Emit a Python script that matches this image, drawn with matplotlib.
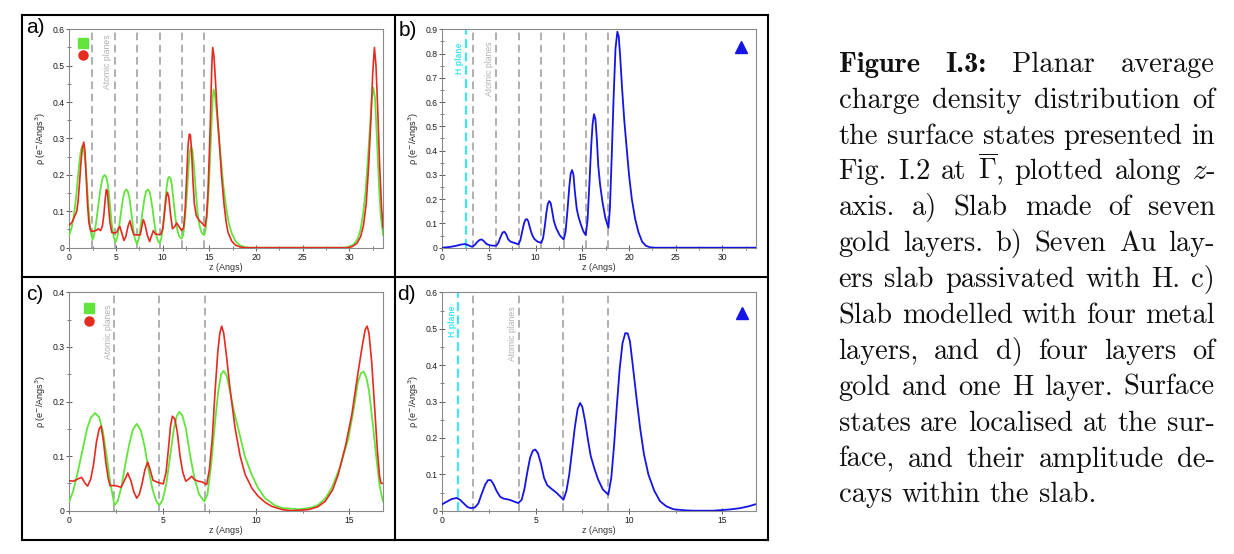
import matplotlib
matplotlib.use('Agg')
import matplotlib.pyplot as plt
from matplotlib.ticker import MultipleLocator, FuncFormatter
from matplotlib.lines import Line2D

# ---------------- data ----------------
# panel a : seven Au layers
a_planes = [2.42, 4.85, 7.27, 9.68, 12.09, 14.48]
a_green_z = [0.0, 0.25, 0.5, 0.75, 0.95, 1.1, 1.25, 1.4, 1.55, 1.7, 1.85, 2.0, 2.15, 2.3, 2.5,
             2.65, 2.85, 3.05, 3.25, 3.45, 3.62, 3.8, 3.98, 4.15, 4.35, 4.55, 4.75, 4.95,
             5.15, 5.35, 5.55, 5.75, 5.93, 6.1, 6.27, 6.45, 6.65, 6.85, 7.05, 7.25,
             7.45, 7.65, 7.85, 8.05, 8.23, 8.4, 8.57, 8.75, 8.95, 9.15, 9.35, 9.5, 9.68,
             9.85, 10.05, 10.25, 10.42, 10.57, 10.7, 10.85, 11.0, 11.2, 11.4, 11.6, 11.8, 12.05,
             12.2, 12.4, 12.6, 12.78, 12.92, 13.05, 13.18, 13.35, 13.55, 13.75, 13.95, 14.2, 14.45,
             14.6, 14.75, 14.95, 15.1, 15.25, 15.35, 15.45, 15.6, 15.8, 16.0, 16.25, 16.5, 16.8,
             17.1, 17.4, 17.8, 18.3, 18.8, 19.3,
             29.5, 30.0, 30.5, 30.9, 31.2, 31.5, 31.75, 32.0, 32.2, 32.4, 32.57, 32.75, 32.95,
             33.15, 33.35, 33.6]
a_green_rho = [0.035, 0.055, 0.09, 0.145, 0.2, 0.24, 0.268, 0.28, 0.27, 0.24, 0.19, 0.13, 0.08,
               0.042, 0.022,
               0.033, 0.065, 0.105, 0.145, 0.178, 0.195, 0.2, 0.193, 0.17, 0.12, 0.065, 0.03,
               0.015,
               0.03, 0.06, 0.1, 0.135, 0.155, 0.16, 0.155, 0.135, 0.095, 0.052, 0.022, 0.01,
               0.025, 0.06, 0.1, 0.135, 0.155, 0.16, 0.155, 0.135, 0.1, 0.06, 0.03, 0.018, 0.012,
               0.025, 0.06, 0.12, 0.165, 0.19, 0.195, 0.19, 0.17, 0.12, 0.075, 0.045, 0.03, 0.025,
               0.035, 0.08, 0.15, 0.225, 0.265, 0.278, 0.268, 0.225, 0.155, 0.095, 0.06, 0.04,
               0.035,
               0.05, 0.09, 0.17, 0.26, 0.35, 0.41, 0.435, 0.42, 0.37, 0.31, 0.24, 0.17, 0.11,
               0.065, 0.04, 0.018, 0.006, 0.002, 0.0,
               0.0, 0.003, 0.01, 0.025, 0.05, 0.1, 0.16, 0.25, 0.33, 0.41, 0.44, 0.41, 0.3,
               0.18, 0.09, 0.035]
a_red_z = [0.0, 0.3, 0.55, 0.8, 0.95, 1.1, 1.25, 1.4, 1.55, 1.68, 1.8, 1.95, 2.1, 2.3, 2.6, 2.9,
           3.1, 3.35, 3.55, 3.7, 3.85, 3.97, 4.08, 4.2, 4.35, 4.55, 4.85, 5.1, 5.3, 5.42, 5.6,
           5.85, 6.05, 6.3, 6.5, 6.7, 6.9, 7.2, 7.6, 7.8, 7.93, 8.1, 8.35, 8.6, 8.8, 9.0, 9.2,
           9.5, 9.8, 10.0, 10.2, 10.38, 10.52, 10.66, 10.85, 11.05, 11.3, 11.5, 11.75, 12.04,
           12.25, 12.42, 12.58, 12.72, 12.85, 12.97, 13.1, 13.25, 13.4, 13.6, 13.9, 14.2, 14.54,
           14.7, 14.85, 15.0, 15.1, 15.2, 15.28, 15.36, 15.5, 15.65, 15.85, 16.07, 16.3, 16.57,
           16.8, 17.0, 17.4, 17.8, 18.3, 18.8,
           29.8, 30.3, 30.8, 31.2, 31.5, 31.8, 32.05, 32.3, 32.5, 32.68, 32.85, 33.05, 33.25,
           33.45, 33.6]
a_red_rho = [0.062, 0.07, 0.085, 0.1, 0.13, 0.18, 0.235, 0.275, 0.29, 0.265, 0.2, 0.12, 0.068,
             0.046, 0.045, 0.048, 0.052, 0.047, 0.06, 0.09, 0.135, 0.16, 0.155, 0.115, 0.07,
             0.042, 0.04, 0.043, 0.055, 0.058, 0.042, 0.02, 0.03, 0.06, 0.074, 0.052, 0.036,
             0.035, 0.035, 0.062, 0.077, 0.065, 0.035, 0.017, 0.032, 0.047, 0.038, 0.036, 0.037,
             0.05, 0.095, 0.14, 0.152, 0.138, 0.09, 0.052, 0.058, 0.068, 0.058, 0.047,
             0.055, 0.11, 0.2, 0.28, 0.312, 0.31, 0.265, 0.18, 0.12, 0.088, 0.075, 0.068, 0.058,
             0.085, 0.15, 0.26, 0.34, 0.44, 0.51, 0.55, 0.525, 0.46, 0.37, 0.29, 0.2, 0.12,
             0.07, 0.042, 0.018, 0.007, 0.002, 0.0,
             0.0, 0.003, 0.012, 0.03, 0.06, 0.12, 0.22, 0.35, 0.48, 0.55, 0.5, 0.37, 0.22,
             0.11, 0.055]

# panel b : seven Au layers + H
b_hplane = 2.54
b_planes = [3.32, 5.75, 8.18, 10.57, 13.0, 15.36, 17.79]
b_blue_z = [0.0, 0.8, 1.5, 2.0, 2.45, 2.8, 3.15, 3.45, 3.75, 4.0, 4.22, 4.45, 4.75, 5.1, 5.5,
            5.8, 6.0, 6.25, 6.45, 6.65, 6.85, 7.05, 7.3, 7.7, 8.15, 8.35, 8.55, 8.75, 8.9, 9.05,
            9.2, 9.4, 9.6, 9.85, 10.2, 10.6, 10.8, 11.0, 11.15, 11.3, 11.45, 11.6, 11.75, 11.95,
            12.2, 12.6, 13.0, 13.2, 13.4, 13.6, 13.75, 13.9, 14.05, 14.2, 14.4, 14.6, 14.85,
            15.1, 15.36, 15.55, 15.75, 15.95, 16.1, 16.25, 16.4, 16.55, 16.7, 16.9, 17.15,
            17.45, 17.79, 17.95, 18.15, 18.35, 18.55, 18.75, 18.9, 19.05, 19.25, 19.5, 19.75,
            20.0, 20.3, 20.65, 21.0, 21.4, 21.8, 22.3, 22.8, 33.6]
b_blue_rho = [0.0, 0.003, 0.008, 0.013, 0.015, 0.01, 0.004, 0.01, 0.024, 0.032, 0.034, 0.027,
              0.015, 0.01, 0.008, 0.009, 0.02, 0.045, 0.062, 0.066, 0.055, 0.035, 0.025, 0.02,
              0.014, 0.03, 0.065, 0.1, 0.115, 0.118, 0.11, 0.08, 0.055, 0.036, 0.025, 0.02,
              0.04, 0.095, 0.145, 0.18, 0.192, 0.185, 0.155, 0.11, 0.08, 0.05, 0.034, 0.065,
              0.15, 0.25, 0.305, 0.32, 0.3, 0.23, 0.16, 0.125, 0.095, 0.068, 0.052, 0.11, 0.26,
              0.42, 0.51, 0.55, 0.53, 0.45, 0.34, 0.26, 0.19, 0.125, 0.082, 0.16, 0.38, 0.62,
              0.82, 0.89, 0.87, 0.79, 0.66, 0.52, 0.41, 0.3, 0.2, 0.12, 0.065, 0.025, 0.008,
              0.001, 0.0, 0.0]

# panel c : four Au layers
c_planes = [2.42, 4.82, 7.25]
c_green_z = [0.0, 0.2, 0.45, 0.7, 0.95, 1.15, 1.38, 1.6, 1.8, 2.0, 2.2, 2.42, 2.6, 2.8, 3.0,
             3.2, 3.4, 3.61, 3.82, 4.02, 4.22, 4.45, 4.65, 4.82, 5.0, 5.2, 5.4, 5.6, 5.75, 5.89,
             6.05, 6.25, 6.45, 6.7, 6.95, 7.23, 7.4, 7.6, 7.8, 7.98, 8.13, 8.27, 8.42, 8.6, 8.8,
             9.05, 9.4, 9.77, 10.1, 10.48, 11.0, 11.4, 12.3, 13.0, 13.34, 13.7, 14.06, 14.5,
             14.95, 15.25, 15.45, 15.62, 15.76, 15.9, 16.05, 16.25, 16.45, 16.62, 16.8]
c_green_rho = [0.017, 0.035, 0.07, 0.11, 0.15, 0.17, 0.179, 0.171, 0.145, 0.1, 0.05, 0.01,
               0.018, 0.045, 0.085, 0.12, 0.148, 0.159, 0.148, 0.12, 0.08, 0.04, 0.018, 0.01,
               0.02, 0.05, 0.1, 0.15, 0.173, 0.181, 0.175, 0.15, 0.105, 0.06, 0.03, 0.017, 0.03,
               0.085, 0.16, 0.22, 0.25, 0.256, 0.248, 0.22, 0.185, 0.15, 0.1, 0.066, 0.042,
               0.023, 0.01, 0.005, 0.0025, 0.006, 0.011, 0.022, 0.042, 0.08, 0.133, 0.19,
               0.235, 0.252, 0.255, 0.245, 0.22, 0.16, 0.095, 0.045, 0.017]
c_red_z = [0.0, 0.22, 0.45, 0.66, 0.85, 0.98, 1.15, 1.3, 1.45, 1.6, 1.7, 1.82, 1.95, 2.08, 2.18,
           2.45, 2.77, 2.95, 3.13, 3.3, 3.45, 3.61, 3.75, 3.9, 4.05, 4.2, 4.33, 4.48, 4.73,
           5.03, 5.18, 5.3, 5.42, 5.52, 5.65, 5.78, 5.93, 6.08, 6.24, 6.4, 6.55, 6.7, 6.9,
           7.09, 7.36, 7.5, 7.65, 7.8, 7.95, 8.06, 8.16, 8.27, 8.43, 8.6, 8.88, 9.15, 9.42,
           9.8, 10.13, 10.5, 10.84, 11.4, 11.91, 12.8, 13.3, 13.7, 14.1, 14.4, 14.8, 15.13,
           15.45, 15.68, 15.85, 15.95, 16.05, 16.2, 16.35, 16.5, 16.62, 16.7, 16.8]
c_red_rho = [0.055, 0.054, 0.058, 0.061, 0.05, 0.045, 0.058, 0.085, 0.125, 0.15, 0.155, 0.13,
             0.09, 0.06, 0.046, 0.046, 0.043, 0.055, 0.069, 0.055, 0.035, 0.023, 0.03, 0.05,
             0.075, 0.089, 0.075, 0.056, 0.052, 0.049, 0.07, 0.11, 0.155, 0.173, 0.168, 0.145,
             0.1, 0.07, 0.054, 0.058, 0.063, 0.057, 0.054, 0.053, 0.048, 0.075, 0.13, 0.215,
             0.29, 0.325, 0.338, 0.325, 0.28, 0.225, 0.151, 0.1, 0.066, 0.04, 0.026, 0.015,
             0.008, 0.002, 0.0, 0.002, 0.007, 0.017, 0.038, 0.066, 0.12, 0.176, 0.25, 0.3,
             0.332, 0.338, 0.325, 0.27, 0.19, 0.11, 0.062, 0.05, 0.05]

# panel d : four Au layers + H
d_hplane = 0.82
d_planes = [1.66, 4.09, 6.49, 8.88]
d_blue_z = [0.0, 0.25, 0.5, 0.77, 0.95, 1.13, 1.35, 1.55, 1.75, 1.93, 2.1, 2.3, 2.45, 2.6, 2.75,
            2.9, 3.1, 3.3, 3.6, 3.85, 4.07, 4.25, 4.4, 4.55, 4.7, 4.85, 4.98, 5.12, 5.28, 5.45,
            5.62, 5.85, 6.1, 6.3, 6.49, 6.65, 6.8, 6.95, 7.1, 7.25, 7.38, 7.5, 7.65, 7.8, 7.95,
            8.15, 8.35, 8.6, 8.89, 9.05, 9.2, 9.35, 9.5, 9.65, 9.8, 9.93, 10.05, 10.2, 10.4,
            10.6, 10.8, 11.04, 11.35, 11.66, 12.0, 12.38, 13.0, 13.45, 14.5, 15.05, 15.5,
            15.95, 16.4, 16.8]
d_blue_rho = [0.018, 0.025, 0.032, 0.035, 0.03, 0.021, 0.01, 0.007, 0.009, 0.02, 0.045, 0.072,
              0.084, 0.084, 0.072, 0.055, 0.038, 0.033, 0.03, 0.025, 0.021, 0.03, 0.06, 0.105,
              0.145, 0.165, 0.168, 0.158, 0.13, 0.09, 0.07, 0.06, 0.05, 0.04, 0.03, 0.055, 0.1,
              0.165, 0.23, 0.28, 0.296, 0.285, 0.245, 0.195, 0.15, 0.115, 0.085, 0.058, 0.044,
              0.09, 0.18, 0.29, 0.39, 0.46, 0.488, 0.487, 0.465, 0.4, 0.31, 0.225, 0.155, 0.099,
              0.055, 0.026, 0.012, 0.004, 0.001, 0.0, 0.0, 0.002, 0.004, 0.007, 0.012, 0.018]

caption_lines = [
    [("Figure", "b"), ("I.3:", "b"), ("Planar", "r"), ("average", "r")],
    "charge density distribution of",
    "the surface states presented in",
    ["Fig.", "I.2", "at", r"$\overline{\Gamma}$,", "plotted", "along", r"$z$-"],
    "axis.  a) Slab made of seven",
    "gold layers.  b) Seven Au lay-",
    "ers slab passivated with H. c)",
    "Slab modelled with four metal",
    "layers, and d) four layers of",
    "gold and one H layer. Surface",
    "states are localised at the sur-",
    "face, and their amplitude de-",
    "cays within the slab.",
]

# ---------------- styling ----------------
GREEN = '#62e43c'
RED = '#e52a1f'
BLUE = '#1414e6'
CYAN = '#3fe6f2'
DASH = '#9a9a9a'

plt.rcParams['font.family'] = ['Liberation Sans', 'DejaVu Sans']
plt.rcParams['mathtext.fontset'] = 'dejavusans'

W, H = 1234, 554
fig = plt.figure(figsize=(W / 100, H / 100), dpi=100)


def ax_at(x0, y0, x1, y1):
    return fig.add_axes([x0 / W, 1 - y1 / H, (x1 - x0) / W, (y1 - y0) / H])


def style(ax, xmax, ymax):
    ax.set_xlim(0, xmax)
    ax.set_ylim(0, ymax)
    ax.xaxis.set_major_locator(MultipleLocator(5))
    ax.xaxis.set_minor_locator(MultipleLocator(2.5))
    ax.yaxis.set_major_locator(MultipleLocator(0.1))
    ax.yaxis.set_minor_locator(MultipleLocator(0.05))
    ax.yaxis.set_major_formatter(FuncFormatter(lambda v, p: '%g' % round(v, 2)))
    ax.tick_params(which='major', direction='inout', length=4, width=0.6, labelsize=6.2,
                   pad=1.5, colors='#444444', labelcolor='#1a1a1a')
    ax.tick_params(which='minor', direction='inout', length=2.5, width=0.5, colors='#444444')
    for s in ax.spines.values():
        s.set_color('#8a8a8a')
        s.set_linewidth(0.8)
    ax.set_xlabel('z (Angs)', fontsize=6.5, labelpad=1, color='#333333')
    ax.set_ylabel('\u03c1 (e$^{-}$/Angs$^{3}$)', fontsize=6.5, labelpad=3, color='#222222')


def planes(ax, zs):
    for z in zs:
        ax.axvline(z, color=DASH, ls=(0, (5, 3)), lw=1.1, zorder=1)


axa = ax_at(69.3, 29.3, 383, 247.7)
axb = ax_at(442.3, 29.3, 756, 247.7)
axc = ax_at(69.3, 292.3, 383, 510.7)
axd = ax_at(442.3, 292.3, 756, 510.7)

# panel a
style(axa, 33.6, 0.6)
planes(axa, a_planes)
axa.plot(a_green_z, a_green_rho, color=GREEN, lw=1.3, zorder=3)
axa.plot(a_red_z, a_red_rho, color=RED, lw=1.2, zorder=4)
axa.plot([0.043], [0.936], 's', color=GREEN, ms=6.5, transform=axa.transAxes, clip_on=False)
axa.plot([0.043], [0.882], 'o', color=RED, ms=6.5, transform=axa.transAxes, clip_on=False)
axa.text(4.07, 0.585, 'Atomic planes', rotation=90, fontsize=6.2, color='#b0b0b0',
         ha='center', va='top')

# panel b
style(axb, 33.6, 0.9)
axb.axvline(b_hplane, color=CYAN, ls=(0, (4, 2)), lw=1.6, zorder=2)
planes(axb, b_planes)
axb.plot(b_blue_z, b_blue_rho, color=BLUE, lw=1.3, zorder=4)
axb.plot([0.951], [0.92], '^', color=BLUE, ms=8, transform=axb.transAxes, clip_on=False)
axb.text(1.79, 0.845, 'H plane', rotation=90, fontsize=6.2, color=CYAN, ha='center', va='top',
         fontweight='bold')
axb.text(5.03, 0.85, 'Atomic planes', rotation=90, fontsize=6.2, color='#b0b0b0',
         ha='center', va='top')

# panel c
style(axc, 16.8, 0.4)
planes(axc, c_planes)
axc.plot(c_green_z, c_green_rho, color=GREEN, lw=1.3, zorder=3)
axc.plot(c_red_z, c_red_rho, color=RED, lw=1.2, zorder=4)
axc.plot([0.064], [0.927], 's', color=GREEN, ms=6.5, transform=axc.transAxes, clip_on=False)
axc.plot([0.064], [0.870], 'o', color=RED, ms=6.5, transform=axc.transAxes, clip_on=False)
axc.text(2.09, 0.378, 'Atomic planes', rotation=90, fontsize=6.2, color='#b0b0b0',
         ha='center', va='top')

# panel d
style(axd, 16.8, 0.6)
axd.axvline(d_hplane, color=CYAN, ls=(0, (4, 2)), lw=1.6, zorder=2)
planes(axd, d_planes)
axd.plot(d_blue_z, d_blue_rho, color=BLUE, lw=1.3, zorder=4)
axd.plot([0.954], [0.905], '^', color=BLUE, ms=8, transform=axd.transAxes, clip_on=False)
axd.text(0.52, 0.565, 'H plane', rotation=90, fontsize=6.2, color=CYAN, ha='center', va='top',
         fontweight='bold')
axd.text(3.75, 0.562, 'Atomic planes', rotation=90, fontsize=6.2, color='#b0b0b0',
         ha='center', va='top')

# panel letters
for lab, (px, py) in zip(['a)', 'b)', 'c)', 'd)'],
                         [(26, 33), (399, 36), (26, 300), (397, 300)]):
    fig.text(px / W, 1 - py / H, lab, fontsize=15, ha='left', va='baseline', color='black')


# frames
def fline(x0, y0, x1, y1):
    fig.add_artist(Line2D([x0 / W, x1 / W], [1 - y0 / H, 1 - y1 / H], color='black', lw=1.5,
                          transform=fig.transFigure, solid_capstyle='projecting'))


fline(22, 15, 768, 15)
fline(22, 540, 768, 540)
fline(22, 15, 22, 540)
fline(768, 15, 768, 540)
fline(395, 15, 395, 540)
fline(22, 277, 768, 277)

# caption (justified)
renderer = fig.canvas.get_renderer()
X0, X1 = 838.5, 1215.0
Y_FIRST, DY = 71.7, 35.9
FS = 20.5
for i, line in enumerate(caption_lines):
    if isinstance(line, str):
        words = [(w, 'r') for w in line.split()]
    else:
        words = [w if isinstance(w, tuple) else (w, 'r') for w in line]
    ypx = Y_FIRST + i * DY
    texts = []
    for w, kind in words:
        fam = 'cmb10' if kind == 'b' else 'cmr10'
        t = fig.text(0, 1 - ypx / H, w, fontsize=FS, family=fam, math_fontfamily='cm',
                     ha='left', va='baseline', color='#111111')
        texts.append(t)
    widths = [t.get_window_extent(renderer).width for t in texts]
    if i == len(caption_lines) - 1:
        space = FS * 100 / 72 * 0.333
    else:
        space = (X1 - X0 - sum(widths)) / max(len(texts) - 1, 1)
    x = X0
    for t, wd in zip(texts, widths):
        t.set_x(x / W)
        x += wd + space

fig.savefig('out.png', dpi=100)
